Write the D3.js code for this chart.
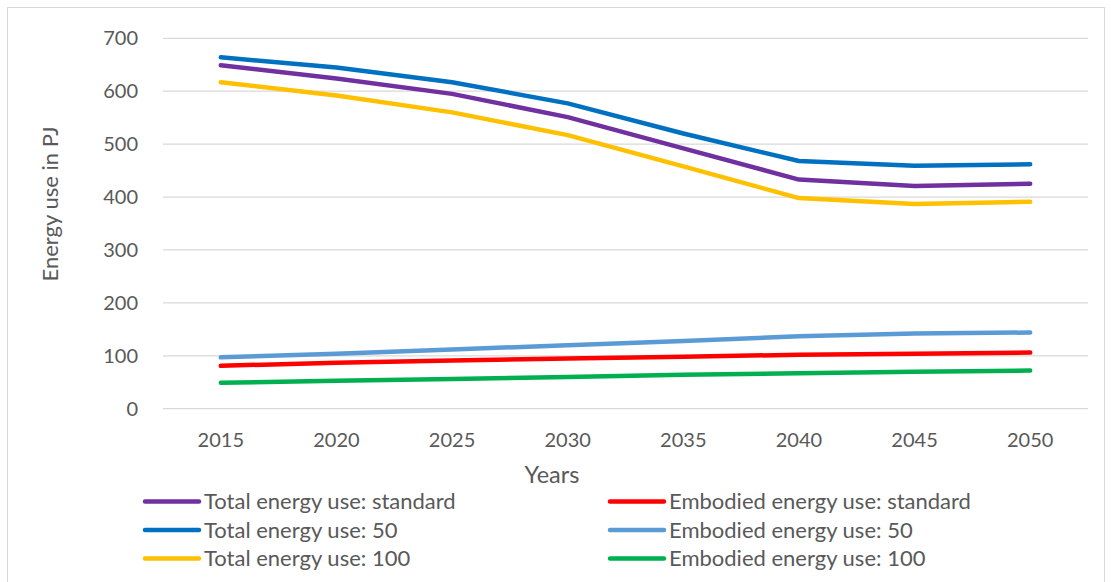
<!DOCTYPE html>
<html>
<head>
<meta charset="utf-8">
<script src="https://cdn.jsdelivr.net/npm/d3@7"></script>
<style>
  body { margin: 0; background: #fff; }
  text { font-family: Lato, "Open Sans", sans-serif; fill: #595959; }
</style>
</head>
<body>
<svg id="chart" width="1111" height="582"></svg>
<script>
// chart data
const years = ["2015", "2020", "2025", "2030", "2035", "2040", "2045", "2050"];
const yTicks = [0, 100, 200, 300, 400, 500, 600, 700];
const totalStandard = [649, 624, 595, 551, 492, 433, 421, 425];
const total50 = [664, 645, 617, 577, 520, 468, 459, 462];
const total100 = [617, 592, 560, 517, 458, 398, 387, 391];
const embodiedStandard = [81, 87, 91, 95, 98, 102, 104, 106];
const embodied50 = [97, 104, 112, 120, 128, 137, 142, 144];
const embodied100 = [49, 53, 56, 60, 64, 67, 70, 72];

const series = [
    { name: "Total energy use: standard", values: totalStandard, color: "#7030A0" },
    { name: "Embodied energy use: standard", values: embodiedStandard, color: "#FF0000" },
    { name: "Total energy use: 50", values: total50, color: "#0070C0" },
    { name: "Embodied energy use: 50", values: embodied50, color: "#5B9BD5" },
    { name: "Total energy use: 100", values: total100, color: "#FFC000" },
    { name: "Embodied energy use: 100", values: embodied100, color: "#00B050" }
];

const svg = d3.select("#chart");

// outer chart border
svg.append("rect")
    .attr("x", 7.5).attr("y", 7.5)
    .attr("width", 1097).attr("height", 590)
    .attr("fill", "none")
    .attr("stroke", "#d9d9d9");

const plot = { left: 163, right: 1088, top: 38.3, bottom: 408.7 };

const x = d3.scaleBand()
    .domain(years)
    .range([plot.left, plot.right]);
const y = d3.scaleLinear()
    .domain([0, 700])
    .range([plot.bottom, plot.top]);

// gridlines
svg.append("g")
    .selectAll("line")
    .data(yTicks)
    .enter()
    .append("line")
    .attr("x1", plot.left).attr("x2", plot.right)
    .attr("y1", d => y(d)).attr("y2", d => y(d))
    .attr("stroke", "#d9d9d9")
    .attr("stroke-width", 1.3);

// y axis labels
const yAxis = svg.append("g")
    .attr("transform", "translate(" + (plot.left - 25) + ",0)")
    .call(d3.axisLeft(y).tickValues(yTicks).tickSize(0).tickPadding(0));
yAxis.select(".domain").remove();
yAxis.selectAll("text")
    .attr("font-size", 20)
    .style("font-family", "Lato, 'Open Sans', sans-serif")
    .attr("fill", "#595959");

// x axis labels
const xAxis = svg.append("g")
    .attr("transform", "translate(0," + plot.bottom + ")")
    .call(d3.axisBottom(x).tickSize(0).tickPadding(0));
xAxis.select(".domain").remove();
xAxis.selectAll("text")
    .attr("y", 38.5)
    .attr("dy", 0)
    .attr("font-size", 20)
    .style("font-family", "Lato, 'Open Sans', sans-serif")
    .attr("fill", "#595959");

// axis titles
svg.append("text")
    .attr("transform", "translate(58,204) rotate(-90)")
    .attr("text-anchor", "middle")
    .attr("font-size", 22)
    .text("Energy use in PJ");
svg.append("text")
    .attr("x", 552).attr("y", 483)
    .attr("text-anchor", "middle")
    .attr("font-size", 23.5)
    .text("Years");

// lines
const line = d3.line()
    .x((d, i) => x(years[i]) + x.bandwidth() / 2)
    .y(d => y(d));

svg.append("g")
    .selectAll("path")
    .data(series)
    .enter()
    .append("path")
    .attr("d", d => line(d.values))
    .attr("fill", "none")
    .attr("stroke", d => d.color)
    .attr("stroke-width", 4.5)
    .attr("stroke-linecap", "round")
    .attr("stroke-linejoin", "round");

// legend, two columns
const legend = svg.append("g")
    .selectAll("g")
    .data(series)
    .enter()
    .append("g")
    .attr("transform", (d, i) => {
        const col = i % 2;
        const row = Math.floor(i / 2);
        return "translate(" + (col === 0 ? 145 : 610) + "," + (501.5 + row * 28.5) + ")";
    });
legend.append("line")
    .attr("x1", 0).attr("x2", 54)
    .attr("y1", 0).attr("y2", 0)
    .attr("stroke", d => d.color)
    .attr("stroke-width", 4.5)
    .attr("stroke-linecap", "round");
legend.append("text")
    .attr("x", 59).attr("y", 0)
    .attr("dy", "0.35em")
    .attr("font-size", 22)
    .text(d => d.name);
</script>
</body>
</html>
